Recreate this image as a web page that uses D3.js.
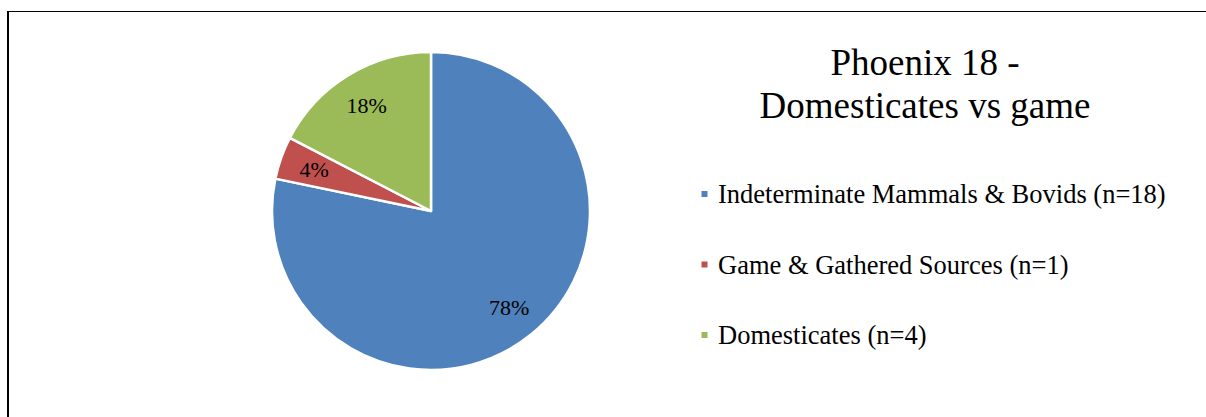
<!DOCTYPE html>
<html>
<head>
<meta charset="utf-8">
<script src="https://cdn.jsdelivr.net/npm/d3@7"></script>
<style>
  html, body { margin: 0; padding: 0; background: #fff; }
  svg { display: block; }
</style>
</head>
<body>
<svg id="chart" width="1206" height="417"></svg>
<script>
// Faunal composition of Phoenix 18
const categories = ["Indeterminate Mammals & Bovids", "Game & Gathered Sources", "Domesticates"];
const counts = [18, 1, 4];
const colors = ["#4F81BD", "#C0504D", "#9BBB59"];
const percentLabels = ["78%", "4%", "18%"];
const titleLines = ["Phoenix 18 -", "Domesticates vs game"];

const svg = d3.select("#chart");
const font = "'Liberation Serif', 'Times New Roman', serif";

// chart frame (runs past the right and bottom edges)
svg.append("line").attr("x1", 8).attr("x2", 8).attr("y1", 11).attr("y2", 417)
  .attr("stroke", "#000").attr("stroke-width", 2);
svg.append("line").attr("x1", 7).attr("x2", 1206).attr("y1", 11.5).attr("y2", 11.5)
  .attr("stroke", "#000").attr("stroke-width", 1.2);

const cx = 431, cy = 211, r = 159;
const data = categories.map((c, i) => ({ name: c, n: counts[i], color: colors[i], label: percentLabels[i] }));

const pie = d3.pie().value(d => d.n).sort(null);
const arc = d3.arc().innerRadius(0).outerRadius(r);
const arcs = pie(data);

const g = svg.append("g").attr("transform", `translate(${cx},${cy})`);
g.selectAll("path").data(arcs).join("path")
  .attr("d", arc)
  .attr("fill", d => d.data.color)
  .attr("stroke", "#fff")
  .attr("stroke-width", 2.5)
  .attr("stroke-linejoin", "round");

// percentage labels inside the slices
const labelArc = d3.arc().innerRadius(124).outerRadius(124);
g.selectAll("text.pct").data(arcs).join("text")
  .attr("class", "pct")
  .attr("x", d => labelArc.centroid(d)[0])
  .attr("y", d => labelArc.centroid(d)[1] + 8)
  .attr("text-anchor", "middle")
  .attr("font-family", font)
  .attr("font-size", 22)
  .attr("fill", "#000")
  .text(d => d.data.label);

// title
const title = svg.append("text").attr("text-anchor", "middle").attr("font-family", font)
  .attr("font-size", 37).attr("fill", "#000");
titleLines.forEach((t, i) => {
  title.append("tspan").attr("x", 925).attr("y", 75 + i * 43).text(t);
});

// legend
const legendY = d3.scalePoint().domain(categories).range([203, 344]);
const lg = svg.append("g");
const items = lg.selectAll("g").data(data).join("g")
  .attr("transform", d => `translate(0,${legendY(d.name)})`);
items.append("rect").attr("x", 701.5).attr("y", -12).attr("width", 6).attr("height", 6)
  .attr("fill", d => d.color);
items.append("text").attr("x", 718).attr("y", 0)
  .attr("font-family", font).attr("font-size", 26.5).attr("fill", "#000")
  .text(d => `${d.name} (n=${d.n})`);
</script>
</body>
</html>
